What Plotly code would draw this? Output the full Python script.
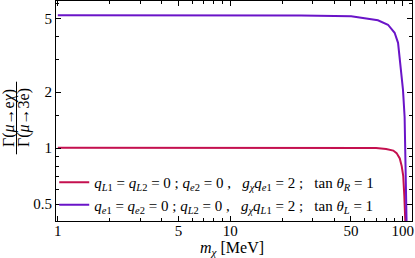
import plotly.graph_objects as go
import math

# Data
m_purple = [1, 5, 10, 25.7, 50.2, 71.7, 82.0, 89.6, 93.8, 97.1, 100.2, 102.4, 103.5, 104.2, 104.8, 105.2]
r_purple = [5.2, 5.2, 5.19, 5.18, 5.13, 4.88, 4.62, 4.18, 3.69, 2.74, 2.06, 1.47, 1.0, 0.7, 0.5, 0.38]

m_red = [1, 5, 10, 25, 50, 70, 80, 88, 92, 96, 98.5, 100.5, 102, 103, 103.6]
r_red = [1.005, 1.005, 1.005, 1.005, 1.003, 1.0, 0.99, 0.97, 0.94, 0.88, 0.8, 0.71, 0.55, 0.45, 0.38]

x_major = [1, 5, 10, 50, 100]
x_major_text = ["1", "5", "10", "50", "100"]
x_minor = [2, 3, 4, 6, 7, 8, 9, 20, 30, 40, 60, 70, 80, 90]
y_major = [0.5, 1, 2, 5]
y_major_text = ["0.5", "1", "2", "5"]
y_minor = [0.6, 0.7, 0.8, 0.9, 1.5, 3, 4, 6]

sp = "&nbsp;"
name_red = ("<i>q</i><sub><i>L</i>1</sub> = <i>q</i><sub><i>L</i>2</sub> = 0" + sp + "; "
            "<i>q</i><sub><i>e</i>2</sub> = 0" + sp + ",  " + sp + "<i>g</i><sub><i>χ</i></sub><i>q</i><sub><i>e</i>1</sub> = 2" + sp + "; " + sp + sp +
            "tan <i>θ</i><sub><i>R</i></sub> = 1")
name_purple = ("<i>q</i><sub><i>e</i>1</sub> = <i>q</i><sub><i>e</i>2</sub> = 0" + sp + "; "
               "<i>q</i><sub><i>L</i>2</sub> = 0" + sp + ",  " + sp + "<i>g</i><sub><i>χ</i></sub><i>q</i><sub><i>L</i>1</sub> = 2" + sp + "; " + sp + sp +
               "tan <i>θ</i><sub><i>L</i></sub> = 1")

RED = "#C4104F"
PURPLE = "#6A14C8"
FONT = "Liberation Serif"

fig = go.Figure()
fig.add_trace(go.Scatter(x=m_red, y=r_red, mode="lines", name=name_red,
                         line=dict(color=RED, width=2)))
fig.add_trace(go.Scatter(x=m_purple, y=r_purple, mode="lines", name=name_purple,
                         line=dict(color=PURPLE, width=2)))

axis_common = dict(showline=True, linecolor="black", linewidth=1, mirror="allticks",
                   ticks="inside", ticklen=5, tickcolor="black", showgrid=False,
                   zeroline=False, tickfont=dict(family=FONT, size=15, color="black"))

fig.update_xaxes(type="log", range=[math.log10(0.976), math.log10(113)],
                 tickvals=x_major, ticktext=x_major_text, ticklabelstandoff=-4,
                 minor=dict(tickvals=x_minor, ticks="inside", ticklen=3, tickcolor="black", showgrid=False),
                 **axis_common)
fig.update_yaxes(type="log", range=[math.log10(0.405), math.log10(6.2)],
                 tickvals=y_major, ticktext=y_major_text,
                 minor=dict(tickvals=y_minor, ticks="inside", ticklen=3, tickcolor="black", showgrid=False),
                 **axis_common)

W, H = 415, 258
ml, mr, mt, mb = 56, 3, 1, 37
pw = W - ml - mr
ph = H - mt - mb

def px2paper(p):
    return (p - ml) / pw

def py2paper(p):
    return (H - mb - p) / ph

# x-axis title
fig.add_annotation(text="<i>m</i><sub><i>χ</i></sub>" + sp + "[MeV]", xref="paper", yref="paper",
                   x=px2paper(232), y=py2paper(248), showarrow=False,
                   xanchor="center", yanchor="middle",
                   font=dict(family=FONT, size=16, color="black"))

# y-axis title as a fraction
yc = py2paper(118)
fig.add_annotation(text="Γ(<i>μ</i>→e<i>χ</i>)", xref="paper", yref="paper",
                   x=px2paper(9), y=yc, textangle=-90, showarrow=False,
                   xanchor="center", yanchor="middle",
                   font=dict(family=FONT, size=16, color="black"))
fig.add_annotation(text="Γ(<i>μ</i>→3e)", xref="paper", yref="paper",
                   x=px2paper(24), y=yc, textangle=-90, showarrow=False,
                   xanchor="center", yanchor="middle",
                   font=dict(family=FONT, size=16, color="black"))
fig.add_shape(type="line", xref="paper", yref="paper",
              x0=px2paper(16.5), x1=px2paper(16.5), y0=yc - 0.165, y1=yc + 0.165,
              line=dict(color="black", width=1))

fig.update_layout(
    width=W, height=H,
    margin=dict(l=ml, r=mr, t=mt, b=mb),
    plot_bgcolor="white", paper_bgcolor="white",
    font=dict(family=FONT, color="black"),
    legend=dict(x=-0.005, y=0.0, xanchor="left", yanchor="bottom",
                bgcolor="rgba(0,0,0,0)", font=dict(family=FONT, size=15, color="black"),
                tracegroupgap=0, itemwidth=30),
    showlegend=True,
)

fig.write_html("out.html", config={"displayModeBar": False},
               post_script="document.body.style.margin='0';document.body.style.padding='0';")
